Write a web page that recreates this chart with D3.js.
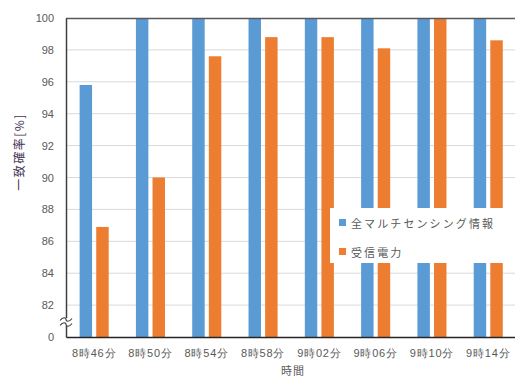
<!DOCTYPE html>
<html>
<head>
<meta charset="utf-8">
<script src="https://cdn.jsdelivr.net/npm/d3@7"></script>
<style>
  html, body { margin: 0; padding: 0; background: #fff; overflow: hidden; }
  svg { display: block; font-family: "Noto Sans CJK JP", "Noto Sans", sans-serif; }
</style>
</head>
<body>
<svg id="chart" width="515" height="377"></svg>
<script>
// Time slots (x categories)
const categories = ["8時46分", "8時50分", "8時54分", "8時58分", "9時02分", "9時06分", "9時10分", "9時14分"];
// Series names
const seriesNames = ["全マルチセンシング情報", "受信電力"];
// Match rate [%] per series
const multiSensing = [95.8, 100, 100, 100, 100, 100, 100, 100];
const rssi = [86.9, 90.0, 97.6, 98.8, 98.8, 98.1, 100, 98.6];
// Y tick values; the lowest one sits at the axis break and reads "0"
const yTicks = [80, 82, 84, 86, 88, 90, 92, 94, 96, 98, 100];
const yTickLabels = ["0", "82", "84", "86", "88", "90", "92", "94", "96", "98", "100"];
const colors = ["#5b9bd5", "#ed7d31"];

const svg = d3.select("#chart");
const plotLeft = 66, plotTop = 18, plotBottom = 337;
const bandStep = 56.3;

const x = d3.scaleBand()
  .domain(categories)
  .range([plotLeft, plotLeft + bandStep * categories.length])
  .paddingInner(0).paddingOuter(0);

const xSub = d3.scaleBand()
  .domain(seriesNames)
  .range([0, x.bandwidth()])
  .paddingInner(0.25)
  .paddingOuter(0.82);

const y = d3.scaleLinear().domain([80, 100]).range([plotBottom, plotTop]);

const plotRight = x.range()[1];

// gridlines
svg.append("g")
  .selectAll("line")
  .data(yTicks.filter(t => t > 80 && t < 100))
  .join("line")
  .attr("x1", plotLeft).attr("x2", plotRight)
  .attr("y1", d => y(d)).attr("y2", d => y(d))
  .attr("stroke", "#d9d9d9").attr("stroke-width", 1);

// bars
const data = categories.map((c, i) => ({ cat: c, vals: [multiSensing[i], rssi[i]] }));
const groups = svg.append("g").selectAll("g")
  .data(data).join("g")
  .attr("transform", d => `translate(${x(d.cat)},0)`);
groups.selectAll("rect")
  .data(d => d.vals.map((v, k) => ({ name: seriesNames[k], v, k })))
  .join("rect")
  .attr("x", d => xSub(d.name))
  .attr("width", xSub.bandwidth())
  .attr("y", d => y(d.v))
  .attr("height", d => y(80) - y(d.v))
  .attr("fill", d => colors[d.k]);

// top border
svg.append("line")
  .attr("x1", plotLeft).attr("x2", plotRight + 10)
  .attr("y1", plotTop + 0.5).attr("y2", plotTop + 0.5)
  .attr("stroke", "#595959").attr("stroke-width", 1.5);

// y axis
const yAxis = d3.axisLeft(y)
  .tickValues(yTicks)
  .tickSize(0)
  .tickPadding(12)
  .tickFormat((d, i) => yTickLabels[i]);
const gy = svg.append("g").attr("transform", `translate(${plotLeft},0)`).call(yAxis);
gy.select(".domain").attr("stroke", "#404040").attr("stroke-width", 1.5);
gy.selectAll("text").attr("fill", "#595959").attr("font-size", 11);

// x axis
const xAxis = d3.axisBottom(x).tickSize(0).tickPadding(12);
const gx = svg.append("g").attr("transform", `translate(0,${plotBottom})`).call(xAxis);
gx.select(".domain").attr("stroke", "#262626").attr("stroke-width", 1.5);
gx.selectAll("text").attr("fill", "#595959").attr("font-size", 11).attr("letter-spacing", 0.8);

// axis break mark
const brk = svg.append("g").attr("transform", `translate(${plotLeft},${y(80) - 15})`);
brk.append("rect").attr("x", -6).attr("y", -4).attr("width", 12).attr("height", 8).attr("fill", "#fff");
[-2.5, 2.5].forEach(dy => {
  brk.append("path")
    .attr("d", `M-6,${dy + 1} C-3,${dy - 3} 0,${dy - 2} 0,${dy} S3,${dy + 3} 6,${dy - 1}`)
    .attr("fill", "none").attr("stroke", "#404040").attr("stroke-width", 1.2);
});

// axis titles
svg.append("text")
  .attr("transform", `translate(18,152) rotate(-90)`)
  .attr("text-anchor", "middle")
  .attr("dominant-baseline", "central")
  .attr("font-size", 12)
  .attr("letter-spacing", 1.5)
  .attr("fill", "#403152")
  .text("一致確率[%]");

svg.append("text")
  .attr("x", 293).attr("y", 375)
  .attr("text-anchor", "middle")
  .attr("font-size", 11)
  .attr("letter-spacing", 1)
  .attr("fill", "#595959")
  .text("時間");

// legend
const lg = svg.append("g").attr("transform", "translate(330,208)");
lg.append("rect").attr("width", 200).attr("height", 55).attr("fill", "#fff");
seriesNames.forEach((name, i) => {
  const row = lg.append("g").attr("transform", `translate(9,${15 + i * 29})`);
  row.append("rect").attr("x", 0).attr("y", -4).attr("width", 7).attr("height", 7).attr("fill", colors[i]);
  row.append("text").attr("x", 12).attr("y", 0)
    .attr("dominant-baseline", "central")
    .attr("font-size", 11).attr("fill", "#595959")
    .attr("letter-spacing", 2.1)
    .text(name);
});
</script>
</body>
</html>
